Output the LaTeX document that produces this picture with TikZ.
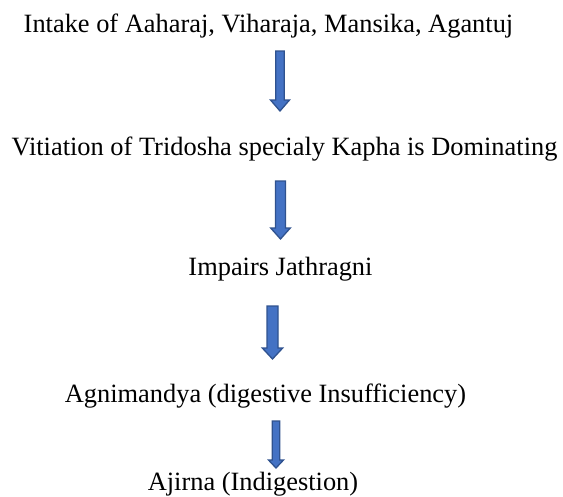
\documentclass[tikz,border=0pt]{standalone}
\usepackage{fontspec}
\setmainfont{Liberation Serif}
\usepackage{tikz}
\usetikzlibrary{positioning}
\usetikzlibrary{calc}

\definecolor{arrowfill}{HTML}{4472C4}
\definecolor{arrowline}{HTML}{2F528F}

% #1 name, #2 x, #3 top, #4 tip, #5 half shaft, #6 half head, #7 head length
\newcommand{\downblock}[7]{
  \coordinate (#1) at (#2, #3);
  \draw[blockarrow] ($(#1)+(-#5, 0)$) -- ($(#1)+(#5, 0)$) -- ($(#1)+(#5, #4-#3-#7)$) -- ($(#1)+(#6, #4-#3-#7)$)
    -- ($(#1)+(0, #4-#3)$) -- ($(#1)+(-#6, #4-#3-#7)$) -- ($(#1)+(-#5, #4-#3-#7)$) -- cycle;
}

\begin{document}
\begin{tikzpicture}[x=1pt, y=-1pt, every node/.style={font=\fontsize{26.4}{30}\selectfont, anchor=base, inner sep=0pt},
  blockarrow/.style={draw=arrowline, fill=arrowfill, line width=1.3pt, line join=miter}]
        \useasboundingbox (0, 0) rectangle (563, 496);

        \node (intake) at (268.5, 32) {Intake of Aaharaj, Viharaja, Mansika, Agantuj};
        \node (vitiation) at (284.5, 155) {Vitiation of Tridosha specialy Kapha is Dominating};
        \node (impairs) at (280.5, 275) {Impairs Jathragni};
        \node (agni) at (265.5, 402) {Agnimandya (digestive Insufficiency)};
        \node (ajirna) at (253, 490) {Ajirna (Indigestion)};

        \downblock{a1}{280}{51}{111}{4.2}{9.5}{11}
        \downblock{a2}{280.5}{181}{239}{5}{9.8}{11}
        \downblock{a3}{272.5}{306}{359}{5.5}{10.2}{11}
        \downblock{a4}{276}{421}{468}{3.8}{7.5}{8}
      \end{tikzpicture}
\end{document}
